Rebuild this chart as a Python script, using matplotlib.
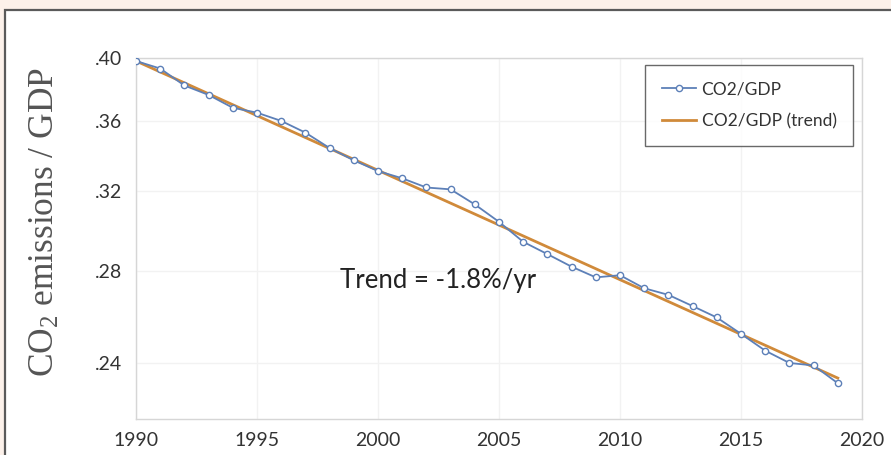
import numpy as np
import matplotlib.pyplot as plt
from matplotlib.patches import Rectangle

# CO2 emissions per unit GDP
years = list(range(1990, 2020))
co2_gdp = [0.398, 0.393, 0.382, 0.376, 0.368, 0.365, 0.360, 0.353, 0.344, 0.337,
           0.331, 0.327, 0.322, 0.321, 0.313, 0.304, 0.294, 0.288, 0.282, 0.277,
           0.278, 0.272, 0.269, 0.264, 0.259, 0.252, 0.245, 0.240, 0.239, 0.232]
trend_years = [1990, 2019]
trend_vals = [0.398, 0.234]
ytick_vals = [0.24, 0.28, 0.32, 0.36, 0.40]
ytick_labels = [".24", ".28", ".32", ".36", ".40"]
xtick_vals = [1990, 1995, 2000, 2005, 2010, 2015, 2020]

plt.rcParams["mathtext.fontset"] = "custom"
plt.rcParams["mathtext.rm"] = "Liberation Serif"
plt.rcParams["mathtext.it"] = "Liberation Serif:italic"

fig = plt.figure(figsize=(8.91, 4.55), dpi=100)
fig.patch.set_facecolor("#fcf1ea")
# white framed panel behind the axes
fig.patches.append(Rectangle((5 / 891, -0.01), 1.0, 1 - 10 / 455 + 0.01,
                             transform=fig.transFigure, facecolor="white",
                             edgecolor="#5a5a5a", linewidth=1.6, zorder=-10))

ax = fig.add_axes([136 / 891, 1 - 419 / 455, (862 - 136) / 891, (419 - 58) / 455])
ax.set_zorder(1)
ax.set_facecolor("white")

ax.plot(years, co2_gdp, color="#5d80b8", lw=1.3, marker="o", ms=4.5,
        mfc="white", mec="#5d80b8", mew=1.0, label="CO2/GDP", zorder=3)
ax.plot(trend_years, trend_vals, color="#d08a3a", lw=2.0,
        label="CO2/GDP (trend)", zorder=2)

ax.set_yscale("log")
ax.set_ylim(0.2185, 0.40)
ax.set_xlim(1990, 2020)
ax.yaxis.set_minor_locator(plt.NullLocator())
ax.set_yticks(ytick_vals)
ax.set_yticklabels(ytick_labels)
ax.set_xticks(xtick_vals)
ax.tick_params(length=0, labelsize=14, colors="#333333")
ax.tick_params(axis="y", pad=10)
ax.tick_params(axis="x", pad=9)
for lab in ax.get_xticklabels() + ax.get_yticklabels():
    lab.set_family("Lato")
ax.grid(True, color="#f2f2f2", lw=1.0)
for s in ax.spines.values():
    s.set_color("#d6d6d6")
    s.set_linewidth(1.0)

ax.set_ylabel(r"CO$_\mathrm{2}$ emissions / GDP", family="Liberation Serif",
              fontsize=25.5, color="#555555")
ax.yaxis.label.set_va("center")
ax.yaxis.set_label_coords((45 - 136) / 726, (419 - 222) / 361)

ax.text(2002.5, 0.2755, "Trend = -1.8%/yr", fontsize=18.5, family="Lato",
        color="#222222", ha="center", va="center")

leg = ax.legend(loc="upper right", bbox_to_anchor=(0.9876, 0.9806),
                borderaxespad=0, prop={"family": "Lato", "size": 12.5},
                frameon=True, fancybox=False, handlelength=2.0,
                borderpad=0.95, labelspacing=0.9, handletextpad=0.3)
leg.get_frame().set_edgecolor("#444444")
leg.get_frame().set_linewidth(1.0)
for t in leg.get_texts():
    t.set_color("#333333")

fig.savefig("out.png", dpi=100, facecolor=fig.get_facecolor())
